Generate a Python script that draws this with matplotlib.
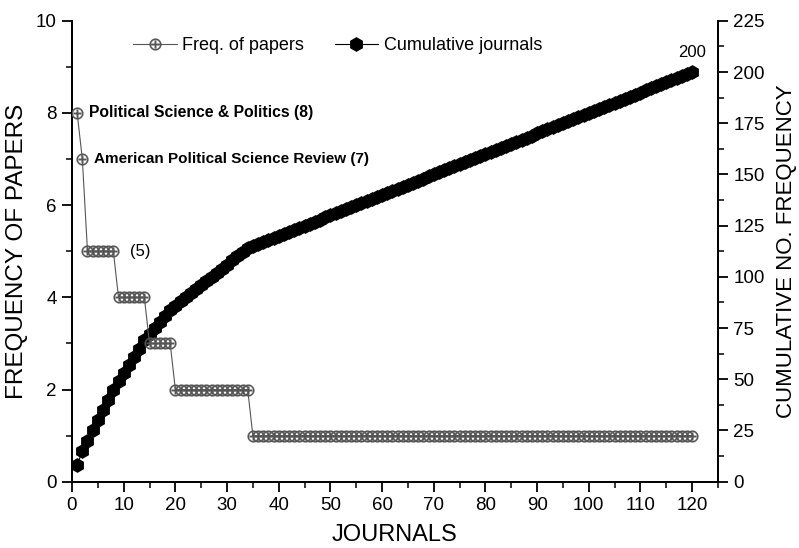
import matplotlib
matplotlib.use("Agg")
import matplotlib.pyplot as plt
import numpy as np
from matplotlib.ticker import MultipleLocator

# papers per journal, journals ranked 1..120
journal_rank = np.arange(1, 121)
freq_papers = [8, 7] + [5] * 6 + [4] * 6 + [3] * 5 + [2] * 15 + [1] * 86
cum_papers = np.cumsum(freq_papers)

plt.rcParams['font.family'] = ['Liberation Sans', 'DejaVu Sans']

fig = plt.figure(figsize=(7.99, 5.48), dpi=100)
ax = fig.add_axes([0.0901, 0.121, 0.8085, 0.841])
ax2 = ax.twinx()

ax.plot(journal_rank, freq_papers, color='#555555', lw=0.8,
        marker=r'$\oplus$', ms=8.5, mec='#555555', mew=0.2,
        label='Freq. of papers', zorder=3)
ax2.plot(journal_rank, cum_papers, color='black', lw=0.8,
         marker='h', ms=9.5, mfc='black', mec='black',
         label='Cumulative journals', zorder=2)

ax.set_zorder(ax2.get_zorder() + 1)
ax.patch.set_visible(False)

ax.set_xlim(0, 125)
ax.set_ylim(0, 10)
ax2.set_ylim(0, 225)

ax.xaxis.set_major_locator(MultipleLocator(10))
ax.xaxis.set_minor_locator(MultipleLocator(5))
ax.yaxis.set_major_locator(MultipleLocator(2))
ax.yaxis.set_minor_locator(MultipleLocator(1))
ax2.yaxis.set_major_locator(MultipleLocator(25))
ax2.yaxis.set_minor_locator(MultipleLocator(12.5))

for a in (ax, ax2):
    a.spines['top'].set_visible(False)
    for s in a.spines.values():
        s.set_linewidth(1.3)
    a.tick_params(which='major', direction='out', length=7, width=1.3,
                  labelsize=13.5, pad=4)
    a.tick_params(which='minor', direction='out', length=4, width=1.1)

ax.set_xlabel('JOURNALS', fontsize=17, labelpad=7)
ax.set_ylabel('FREQUENCY OF PAPERS', fontsize=17.5, labelpad=6)
ax2.set_ylabel('CUMULATIVE NO. FREQUENCY', fontsize=16, labelpad=8)

ax.text(3.2, 8, 'Political Science & Politics (8)', fontsize=11.3,
        fontweight='bold', va='center')
ax.text(4.2, 7, 'American Political Science Review (7)', fontsize=11,
        fontweight='bold', va='center')
ax.text(11.3, 5, '(5)', fontsize=12, va='center')
ax2.text(120, 206, '200', fontsize=12, ha='center', va='bottom')

h1, l1 = ax.get_legend_handles_labels()
h2, l2 = ax2.get_legend_handles_labels()
ax.legend(h1 + h2, l1 + l2, ncol=2, frameon=False, fontsize=13,
          loc='upper left', bbox_to_anchor=(0.07, 1.0),
          handlelength=2.4, handletextpad=0.3, columnspacing=1.7)

fig.savefig('out.png', dpi=100)
